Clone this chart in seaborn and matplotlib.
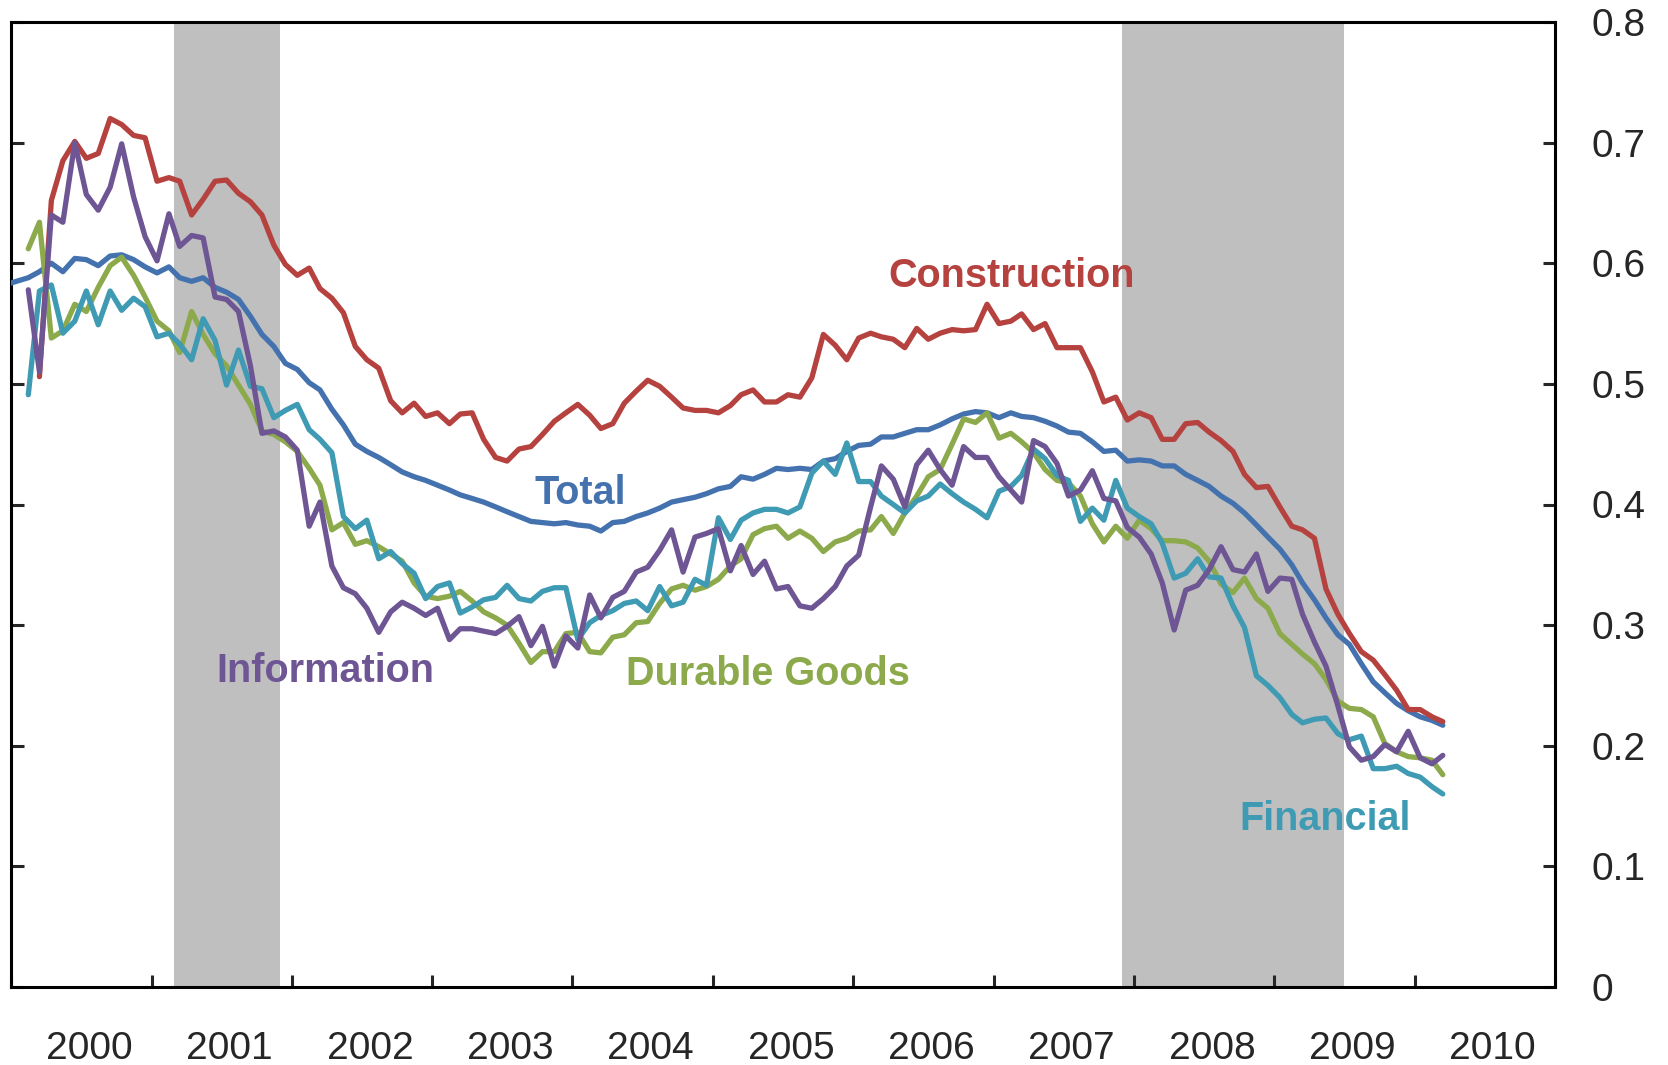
import pandas as pd
import numpy as np
import matplotlib
matplotlib.use('Agg')
import matplotlib.pyplot as plt
import matplotlib.dates as mdates
from matplotlib.ticker import FuncFormatter, NullFormatter
import seaborn as sns

# monthly series, each with its own first month (plotted mid-month)
total_start = '1999-12'
total = [0.582, 0.585, 0.588, 0.593, 0.600, 0.593, 0.604, 0.603, 0.598, 0.606,
         0.607, 0.603, 0.597, 0.592, 0.597, 0.588, 0.585, 0.588, 0.580, 0.576,
         0.570, 0.556, 0.541, 0.531, 0.517, 0.512, 0.501, 0.495, 0.479, 0.466,
         0.450, 0.444, 0.439, 0.433, 0.427, 0.423, 0.420, 0.416, 0.412, 0.408,
         0.405, 0.402, 0.398, 0.394, 0.390, 0.386, 0.385, 0.384, 0.385, 0.383,
         0.382, 0.378, 0.385, 0.386, 0.390, 0.393, 0.397, 0.402, 0.404, 0.406,
         0.409, 0.413, 0.415, 0.423, 0.421, 0.425, 0.430, 0.429, 0.430, 0.429,
         0.436, 0.438, 0.444, 0.449, 0.450, 0.456, 0.456, 0.459, 0.462, 0.462,
         0.466, 0.471, 0.475, 0.477, 0.476, 0.472, 0.476, 0.473, 0.472, 0.469,
         0.465, 0.460, 0.459, 0.452, 0.444, 0.445, 0.436, 0.437, 0.436, 0.432,
         0.432, 0.425, 0.420, 0.415, 0.407, 0.401, 0.393, 0.383, 0.373, 0.363,
         0.350, 0.335, 0.321, 0.306, 0.292, 0.284, 0.268, 0.253, 0.244, 0.235,
         0.229, 0.224, 0.221, 0.217]

construction_start = '2000-03'
construction = [0.506, 0.652, 0.685, 0.701, 0.687, 0.691, 0.720, 0.715, 0.706, 0.704,
                0.668, 0.671, 0.668, 0.640, 0.653, 0.668, 0.669, 0.658, 0.651, 0.640,
                0.615, 0.599, 0.590, 0.596, 0.579, 0.571, 0.559, 0.531, 0.520, 0.513,
                0.486, 0.476, 0.484, 0.473, 0.476, 0.467, 0.475, 0.476, 0.454, 0.439,
                0.436, 0.446, 0.448, 0.458, 0.469, 0.476, 0.483, 0.474, 0.463, 0.467,
                0.484, 0.494, 0.503, 0.498, 0.489, 0.480, 0.478, 0.478, 0.476, 0.482,
                0.491, 0.495, 0.485, 0.485, 0.491, 0.489, 0.505, 0.541, 0.532, 0.520,
                0.538, 0.542, 0.539, 0.537, 0.530, 0.546, 0.537, 0.542, 0.545, 0.544,
                0.545, 0.566, 0.550, 0.552, 0.558, 0.545, 0.550, 0.530, 0.530, 0.530,
                0.510, 0.485, 0.489, 0.470, 0.476, 0.472, 0.454, 0.454, 0.467, 0.468,
                0.460, 0.453, 0.444, 0.425, 0.414, 0.415, 0.398, 0.382, 0.379, 0.372,
                0.330, 0.309, 0.293, 0.278, 0.271, 0.259, 0.246, 0.230, 0.230, 0.224,
                0.220]

information_start = '2000-02'
information = [0.578, 0.510, 0.640, 0.634, 0.700, 0.657, 0.644, 0.663, 0.699, 0.655,
               0.622, 0.602, 0.641, 0.614, 0.623, 0.621, 0.572, 0.570, 0.560, 0.515,
               0.459, 0.461, 0.456, 0.445, 0.382, 0.402, 0.349, 0.331, 0.326, 0.314,
               0.294, 0.311, 0.319, 0.314, 0.308, 0.314, 0.288, 0.297, 0.297, 0.295,
               0.293, 0.299, 0.307, 0.283, 0.299, 0.266, 0.291, 0.281, 0.325, 0.306,
               0.323, 0.328, 0.344, 0.348, 0.362, 0.379, 0.344, 0.373, 0.376, 0.380,
               0.345, 0.366, 0.342, 0.353, 0.330, 0.332, 0.316, 0.314, 0.322, 0.332,
               0.349, 0.358, 0.398, 0.432, 0.421, 0.398, 0.433, 0.445, 0.429, 0.416,
               0.448, 0.439, 0.439, 0.423, 0.412, 0.402, 0.453, 0.448, 0.434, 0.407,
               0.412, 0.428, 0.405, 0.403, 0.381, 0.373, 0.359, 0.335, 0.296, 0.329,
               0.333, 0.346, 0.365, 0.346, 0.344, 0.359, 0.328, 0.339, 0.338, 0.309,
               0.286, 0.266, 0.233, 0.199, 0.188, 0.191, 0.201, 0.195, 0.212, 0.190,
               0.185, 0.192]

durable_start = '2000-02'
durable = [0.612, 0.634, 0.538, 0.544, 0.566, 0.560, 0.580, 0.598, 0.605, 0.590,
           0.572, 0.552, 0.544, 0.526, 0.560, 0.541, 0.525, 0.515, 0.499, 0.483,
           0.461, 0.458, 0.452, 0.444, 0.430, 0.416, 0.379, 0.385, 0.367, 0.370,
           0.365, 0.359, 0.353, 0.335, 0.324, 0.322, 0.324, 0.328, 0.320, 0.311,
           0.306, 0.300, 0.285, 0.269, 0.278, 0.278, 0.293, 0.294, 0.278, 0.277,
           0.290, 0.292, 0.302, 0.303, 0.318, 0.330, 0.333, 0.329, 0.332, 0.338,
           0.349, 0.355, 0.375, 0.380, 0.382, 0.372, 0.378, 0.372, 0.361, 0.369,
           0.372, 0.378, 0.379, 0.390, 0.376, 0.393, 0.407, 0.423, 0.429, 0.450,
           0.471, 0.468, 0.476, 0.455, 0.459, 0.452, 0.443, 0.429, 0.420, 0.418,
           0.407, 0.384, 0.369, 0.382, 0.372, 0.387, 0.380, 0.370, 0.370, 0.369,
           0.364, 0.353, 0.334, 0.327, 0.339, 0.322, 0.314, 0.293, 0.284, 0.276,
           0.268, 0.255, 0.237, 0.231, 0.230, 0.224, 0.202, 0.195, 0.191, 0.190,
           0.188, 0.176]

financial_start = '2000-02'
financial = [0.491, 0.577, 0.582, 0.542, 0.552, 0.577, 0.549, 0.577, 0.561, 0.571,
             0.564, 0.539, 0.542, 0.533, 0.520, 0.554, 0.536, 0.499, 0.528, 0.498,
             0.496, 0.472, 0.478, 0.483, 0.462, 0.454, 0.443, 0.390, 0.380, 0.387,
             0.355, 0.361, 0.351, 0.343, 0.322, 0.332, 0.335, 0.310, 0.315, 0.321,
             0.323, 0.333, 0.322, 0.320, 0.328, 0.331, 0.331, 0.288, 0.302, 0.308,
             0.312, 0.318, 0.320, 0.312, 0.332, 0.316, 0.319, 0.338, 0.333, 0.389,
             0.371, 0.387, 0.393, 0.396, 0.396, 0.393, 0.398, 0.426, 0.436, 0.425,
             0.451, 0.419, 0.419, 0.407, 0.400, 0.393, 0.403, 0.407, 0.417, 0.409,
             0.402, 0.396, 0.389, 0.411, 0.415, 0.424, 0.446, 0.438, 0.424, 0.420,
             0.386, 0.397, 0.387, 0.420, 0.397, 0.390, 0.384, 0.368, 0.339, 0.343,
             0.355, 0.340, 0.339, 0.316, 0.298, 0.258, 0.250, 0.240, 0.226, 0.219,
             0.222, 0.223, 0.210, 0.205, 0.208, 0.181, 0.181, 0.183, 0.177, 0.174,
             0.166, 0.160]

recessions = [('2001-03-01', '2001-12-01'), ('2007-12-01', '2009-07-01')]

series_names = ['Total', 'Construction', 'Durable Goods', 'Financial', 'Information']
colors = {'Total': '#4472AE', 'Construction': '#B5423F', 'Durable Goods': '#8CAA4B',
          'Financial': '#3F9AB4', 'Information': '#6E5594'}


def monthly(name, start, values):
    dates = pd.date_range(start + '-01', periods=len(values), freq='MS') + pd.Timedelta(days=14)
    return pd.DataFrame({'date': dates, 'value': values, 'series': name})


df = pd.concat([
    monthly('Total', total_start, total),
    monthly('Construction', construction_start, construction),
    monthly('Durable Goods', durable_start, durable),
    monthly('Financial', financial_start, financial),
    monthly('Information', information_start, information),
], ignore_index=True)

sns.set_style('white')
plt.rcParams['font.family'] = ['Liberation Sans', 'DejaVu Sans']

fig = plt.figure(figsize=(16.68, 10.65), dpi=100)
ax = fig.add_axes([11 / 1668, 78 / 1065, 1544 / 1668, 965 / 1065])

for a, b in recessions:
    ax.axvspan(pd.Timestamp(a), pd.Timestamp(b), color='#BFBFBF', lw=0, zorder=0)

sns.lineplot(data=df, x='date', y='value', hue='series', hue_order=series_names,
             palette=colors, linewidth=3.8, legend=False, ax=ax, zorder=3)

ax.set_xlim(pd.Timestamp('2000-01-01'), pd.Timestamp('2011-01-01'))
ax.set_ylim(0, 0.8)
ax.set_xlabel('')
ax.set_ylabel('')

# x axis: year ticks at boundaries, labels a bit past mid-year
ax.xaxis.set_major_locator(mdates.YearLocator())
ax.xaxis.set_major_formatter(NullFormatter())
ax.xaxis.set_minor_locator(mdates.MonthLocator(bymonth=7, bymonthday=23))
ax.xaxis.set_minor_formatter(mdates.DateFormatter('%Y'))
ax.tick_params(axis='x', which='major', direction='in', length=9, width=2.2,
               bottom=True, top=False)
ax.tick_params(axis='x', which='minor', length=0, pad=32, labelsize=28)

# y axis: labels on the right, ticks inward on both sides
ax.set_yticks(np.arange(0, 0.81, 0.1))
ax.yaxis.set_major_formatter(FuncFormatter(lambda v, _: '0' if abs(v) < 1e-9 else f'{v:.1f}'))
ax.tick_params(axis='y', direction='in', length=9, width=2.2, left=True, right=True,
               labelleft=False, labelright=True, pad=26, labelsize=28)

for s in ax.spines.values():
    s.set_visible(True)
    s.set_color('black')
    s.set_linewidth(2.2)

labels = [('Total', 0.3685, 0.5005), ('Construction', 0.648, 0.7254),
          ('Information', 0.2037, 0.3161), ('Durable Goods', 0.490, 0.3130),
          ('Financial', 0.851, 0.1630)]
for name, tx, ty in labels:
    ax.text(tx, ty, name, transform=ax.transAxes, ha='center', va='baseline',
            fontsize=28.5, fontweight='bold', color=colors[name], zorder=5)

fig.savefig('out.png', dpi=100)
